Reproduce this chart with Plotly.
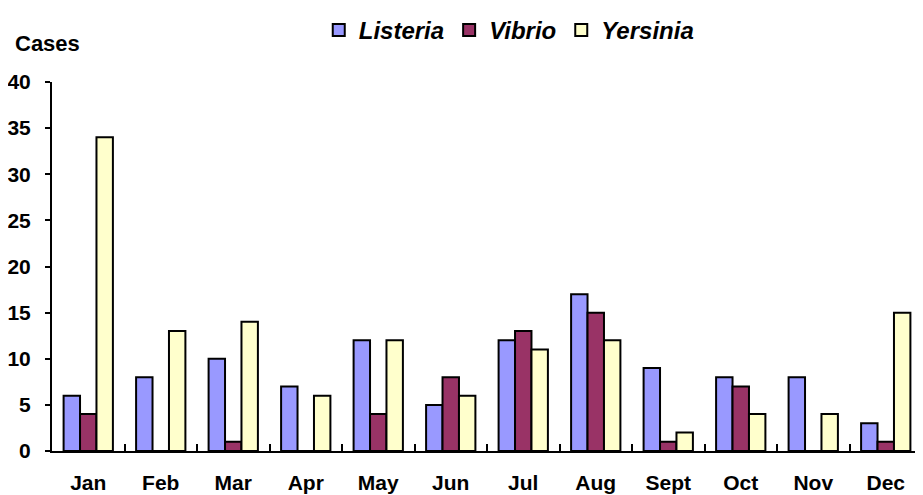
import plotly.graph_objects as go

# monthly case counts
months = ["Jan", "Feb", "Mar", "Apr", "May", "Jun", "Jul", "Aug", "Sept", "Oct", "Nov", "Dec"]
listeria = [6, 8, 10, 7, 12, 5, 12, 17, 9, 8, 8, 3]
vibrio = [4, 0, 1, 0, 4, 8, 13, 15, 1, 7, 0, 1]
yersinia = [34, 13, 14, 6, 12, 6, 11, 12, 2, 4, 4, 15]

font = "Liberation Sans, Arial, sans-serif"

fig = go.Figure()
for name, vals, col in [("Listeria", listeria, "#9999FF"),
                        ("Vibrio", vibrio, "#993366"),
                        ("Yersinia", yersinia, "#FFFFCC")]:
    fig.add_trace(go.Bar(x=months, y=vals, name="<b><i>" + name + "</i></b>",
                         marker=dict(color=col, line=dict(color="black", width=2))))

# page body has an 8px margin, so the figure is drawn 8px smaller
fig.update_layout(
    width=915, height=487,
    barmode="group", bargap=0.32, bargroupgap=0,
    plot_bgcolor="white", paper_bgcolor="white",
    margin=dict(l=44, r=1, t=74, b=44),
    font=dict(family=font, size=21, color="black"),
    legend=dict(orientation="h", x=0.525, xanchor="center", yref="container", y=1.0,
                yanchor="top", font=dict(size=24), tracegroupgap=0),
    annotations=[dict(text="<b>Cases</b>", x=-0.045, xanchor="left", y=1.105, yanchor="middle",
                      xref="paper", yref="paper", showarrow=False, font=dict(size=22))],
)
fig.update_xaxes(showline=True, linecolor="black", linewidth=2, ticks="inside", ticklen=7,
                 tickwidth=2, tickcolor="black", tickson="boundaries", ticklabelstandoff=12,
                 tickprefix="<b>", ticksuffix="</b>", showgrid=False, automargin=False)
fig.update_yaxes(range=[0, 40], dtick=5, showline=True, linecolor="black", linewidth=2,
                 ticks="outside", ticklen=5, tickwidth=2, tickcolor="black", showgrid=False,
                 zeroline=False, ticklabelstandoff=10, tickprefix="<b>", ticksuffix="</b>",
                 automargin=False)

fig.write_html("out.html")
